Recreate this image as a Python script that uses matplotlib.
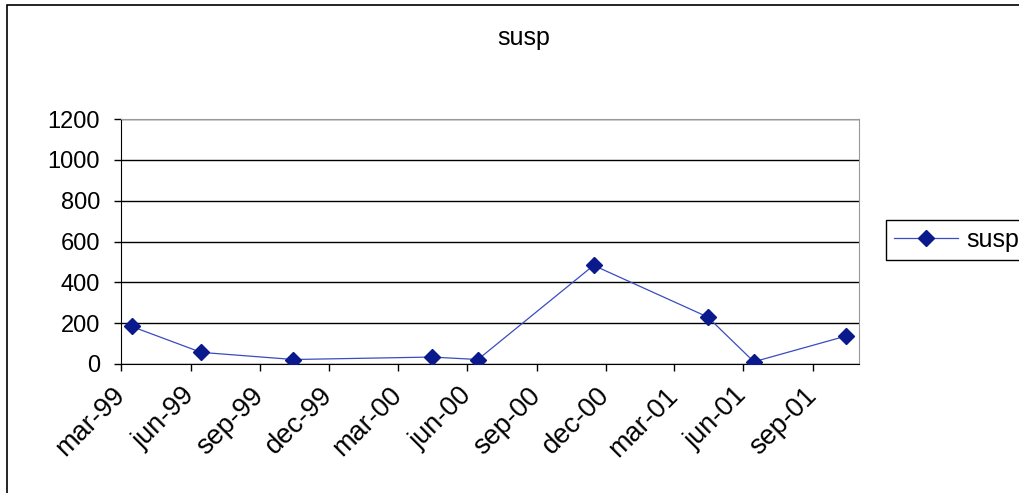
import datetime as dt

import matplotlib
matplotlib.use("Agg")
import matplotlib.pyplot as plt
from matplotlib.patches import Rectangle

dates = [
    dt.date(1999, 3, 15), dt.date(1999, 6, 15), dt.date(1999, 10, 15),
    dt.date(2000, 4, 15), dt.date(2000, 6, 15), dt.date(2000, 11, 15),
    dt.date(2001, 4, 15), dt.date(2001, 6, 15), dt.date(2001, 10, 15),
]
susp = [184, 57, 22, 34, 22, 483, 230, 11, 137]

tick_dates = [
    dt.date(1999, 3, 1), dt.date(1999, 6, 1), dt.date(1999, 9, 1),
    dt.date(1999, 12, 1), dt.date(2000, 3, 1), dt.date(2000, 6, 1),
    dt.date(2000, 9, 1), dt.date(2000, 12, 1), dt.date(2001, 3, 1),
    dt.date(2001, 6, 1), dt.date(2001, 9, 1),
]
tick_labels = ["mar-99", "jun-99", "sep-99", "dec-99", "mar-00", "jun-00",
               "sep-00", "dec-00", "mar-01", "jun-01", "sep-01"]
yticks = [0, 200, 400, 600, 800, 1000, 1200]

plt.rcParams["font.family"] = ["Liberation Sans", "DejaVu Sans"]

W, H = 1019, 493
fig = plt.figure(figsize=(W / 100, H / 100), dpi=100)
ax = fig.add_axes([121 / W, 1 - 364 / H, 738 / W, 245 / H])

line, = ax.plot(dates, susp, color="#3a4cc0", linewidth=0.9,
                marker="D", markersize=8, markerfacecolor="#0a1a8c",
                markeredgecolor="#0a1a8c", label="susp", zorder=3)

ax.set_xlim(dt.date(1999, 3, 1), dt.date(2001, 11, 1))
ax.set_xticks(tick_dates)
ax.set_xticklabels(tick_labels, rotation=45, ha="right", va="center",
                   rotation_mode="anchor")
ax.set_ylim(0, 1200)
ax.set_yticks(yticks)
ax.tick_params(axis="both", direction="out", length=5, width=1,
               color="black")
ax.tick_params(axis="x", labelsize=19.5, pad=15)
ax.tick_params(axis="y", labelsize=17, pad=10)

ax.grid(axis="y", color="black", linewidth=1)
ax.set_axisbelow(True)
for side in ["left", "bottom"]:
    ax.spines[side].set_color("black")
for side in ["top", "right"]:
    ax.spines[side].set_color("#999999")

fig.text(524 / W, 1 - 38 / H, "susp", ha="center", va="center", fontsize=18)

ax.legend(handles=[line], loc="center left",
          bbox_to_anchor=(886 / W, 1 - 240 / H),
          bbox_transform=fig.transFigure, fontsize=18, frameon=True,
          fancybox=False, edgecolor="black", framealpha=1,
          handlelength=2.56, handletextpad=0.32, borderpad=0.32,
          borderaxespad=0)

# chart-area border, running off the right and bottom edges
fig.patches.append(Rectangle((7 / W, -0.1), 1.2, (H - 5) / H + 0.1,
                             transform=fig.transFigure, fill=False,
                             edgecolor="black", linewidth=1.2))

fig.savefig("out.png", dpi=100)
